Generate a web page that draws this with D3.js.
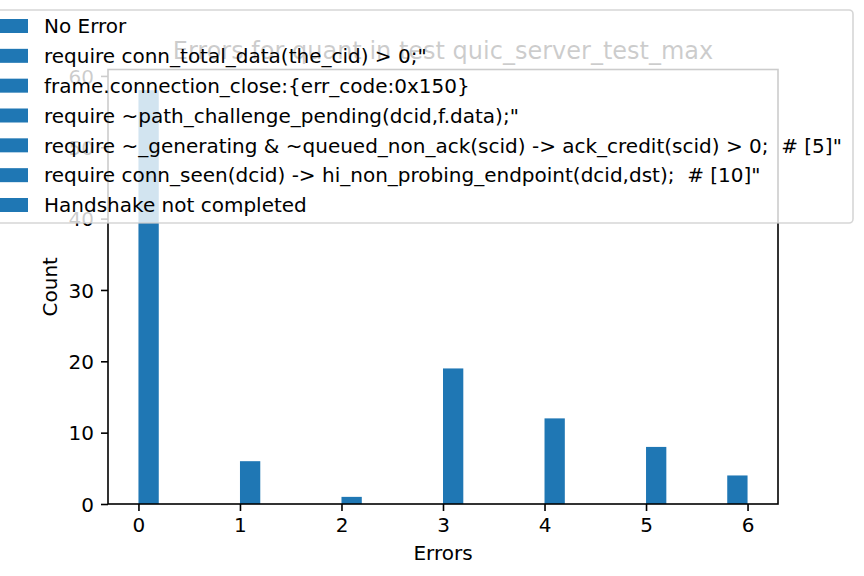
<!DOCTYPE html>
<html>
<head>
<meta charset="utf-8">
<script src="https://cdn.jsdelivr.net/npm/d3@7"></script>
<style>
  html, body { margin: 0; padding: 0; background: #ffffff; }
  svg { display: block; }
  text { font-family: "DejaVu Sans", sans-serif; fill: #000; }
</style>
</head>
<body>
<svg id="chart" width="864" height="576"></svg>
<script>
// ---- data ----
const errorValues = [0, 1, 2, 3, 4, 5, 6];
const counts = [58, 6, 1, 19, 12, 8, 4];
const binCount = 30;
const xTicks = [0, 1, 2, 3, 4, 5, 6];
const yTicks = [0, 10, 20, 30, 40, 50, 60];
const legendLabels = [
  'No Error',
  'require conn_total_data(the_cid) > 0;"',
  'frame.connection_close:{err_code:0x150}',
  'require ~path_challenge_pending(dcid,f.data);"',
  'require ~_generating & ~queued_non_ack(scid) -> ack_credit(scid) > 0;  # [5]"',
  'require conn_seen(dcid) -> hi_non_probing_endpoint(dcid,dst);  # [10]"',
  'Handshake not completed'
];
const titleText = 'Errors for quant in test quic_server_test_max';
const xLabel = 'Errors';
const yLabel = 'Count';

// ---- layout ----
const W = 864, H = 576;
const ax = { left: 108, right: 778, top: 69.5, bottom: 504 };
const barColor = '#1f77b4';

const svg = d3.select('#chart');
svg.append('rect').attr('width', W).attr('height', H).attr('fill', '#fff');

const xMin = d3.min(errorValues), xMax = d3.max(errorValues);
const xPad = (xMax - xMin) * 0.05;
const x = d3.scaleLinear().domain([xMin - xPad, xMax + xPad]).range([ax.left, ax.right]);
const y = d3.scaleLinear().domain([0, d3.max(counts) * 1.05]).range([ax.bottom, ax.top]);

const binW = (xMax - xMin) / binCount;
const bars = errorValues.map((v, i) => {
  const idx = Math.min(Math.floor((v - xMin) / binW + 1e-9), binCount - 1);
  return { x0: xMin + idx * binW, x1: xMin + (idx + 1) * binW, c: counts[i] };
});

// bars
svg.append('g').selectAll('rect').data(bars).join('rect')
  .attr('x', d => x(d.x0))
  .attr('y', d => y(d.c))
  .attr('width', d => x(d.x1) - x(d.x0))
  .attr('height', d => y(0) - y(d.c))
  .attr('fill', barColor);

// axes
const gx = svg.append('g').attr('transform', `translate(0,${ax.bottom})`)
  .call(d3.axisBottom(x).tickValues(xTicks).tickFormat(d3.format('d')).tickSize(7).tickPadding(7).tickSizeOuter(0));
const gy = svg.append('g').attr('transform', `translate(${ax.left},0)`)
  .call(d3.axisLeft(y).tickValues(yTicks).tickFormat(d3.format('d')).tickSize(7).tickPadding(7).tickSizeOuter(0));
[gx, gy].forEach(g => {
  g.select('.domain').remove();
  g.selectAll('.tick line').attr('stroke', '#000').attr('stroke-width', 1.6);
  g.selectAll('.tick text').attr('font-size', 20).attr('font-family', '"DejaVu Sans", sans-serif').attr('fill', '#000');
});
gy.selectAll('.tick text').attr('dy', '0.36em');

// spines
svg.append('rect')
  .attr('x', ax.left).attr('y', ax.top)
  .attr('width', ax.right - ax.left).attr('height', ax.bottom - ax.top)
  .attr('fill', 'none').attr('stroke', '#000').attr('stroke-width', 1.6);

// labels
svg.append('text').attr('x', (ax.left + ax.right) / 2).attr('y', 560)
  .attr('text-anchor', 'middle').attr('font-size', 20).text(xLabel);
svg.append('text').attr('transform', `translate(57,${(ax.top + ax.bottom) / 2}) rotate(-90)`)
  .attr('text-anchor', 'middle').attr('font-size', 20).text(yLabel);
svg.append('text').attr('x', (ax.left + ax.right) / 2).attr('y', 58.5)
  .attr('text-anchor', 'middle').attr('font-size', 24).text(titleText);

// legend
const leg = svg.append('g');
leg.append('rect')
  .attr('x', -20).attr('y', 10).attr('width', 873).attr('height', 213)
  .attr('rx', 4).attr('ry', 4)
  .attr('fill', '#fff').attr('fill-opacity', 0.8)
  .attr('stroke', '#cccccc').attr('stroke-opacity', 0.8).attr('stroke-width', 1.6);
const rowY = d3.scaleLinear().domain([0, legendLabels.length - 1]).range([26, 205]);
const rows = leg.selectAll('g.row').data(legendLabels).join('g').attr('class', 'row')
  .attr('transform', (d, i) => `translate(0,${rowY(i)})`);
rows.append('rect').attr('x', -12).attr('y', -7).attr('width', 40).attr('height', 14).attr('fill', barColor);
rows.append('text').attr('x', 44).attr('y', 7.3).attr('font-size', 20)
  .style('white-space', 'pre').text(d => d);
</script>
</body>
</html>
